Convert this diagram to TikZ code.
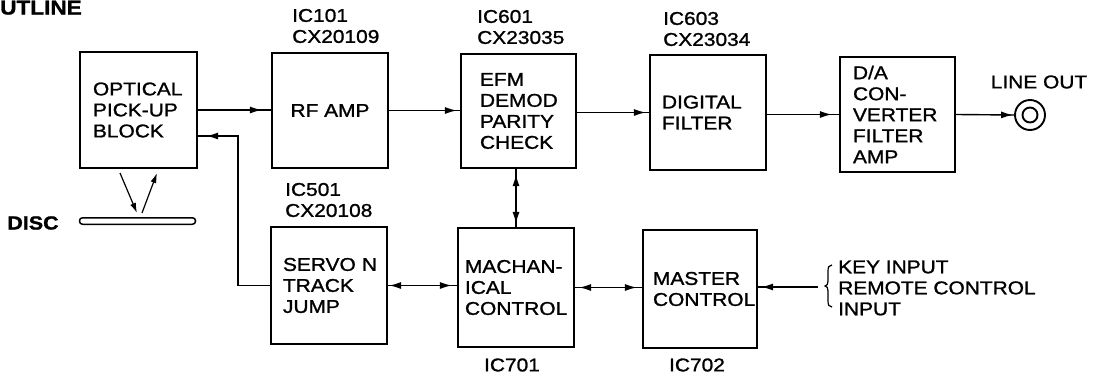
\documentclass[tikz,border=0pt]{standalone}
\usepackage{fontspec}
\setmainfont{Liberation Sans}[FakeStretch=1.13,FakeBold=1.2]
\usetikzlibrary{arrows.meta,decorations.markings}
\begin{document}
\begin{tikzpicture}[x=1pt,y=-1pt,
  every node/.style={font=\fontsize{18.5}{21}\selectfont, inner sep=0pt},
  blk/.style={draw, line width=2.2pt, rectangle, align=left, inner ysep=0pt},
  lbl/.style={align=left, anchor=west},
  conn/.style={line width=1.4pt},
  fwd/.style={postaction={decorate,decoration={markings,
      mark=at position -#1 with {\arrow{Latex[length=12pt,width=7pt]}}}}},
  fwd/.default=4pt,
  bwd/.style={postaction={decorate,decoration={markings,
      mark=at position #1 with {\arrowreversed{Latex[length=12pt,width=7pt]}}}}},
  bwd/.default=4pt]
\useasboundingbox (0,0) rectangle (1095,375);

% title
\node[anchor=base west, font=\fontsize{20}{22}\selectfont\bfseries] (title) at (0,14.5) {UTLINE};

% blocks
\node[blk, minimum width=117pt, minimum height=116pt, inner xsep=13pt, text width=91pt] (opt) at (138.5,110) {OPTICAL\\PICK-UP\\BLOCK};
\node[blk, minimum width=116pt, minimum height=115pt, align=center] (rf) at (330,110.5) {RF AMP};
\node[blk, minimum width=115pt, minimum height=114pt, inner xsep=19pt, text width=77pt] (efm) at (518.5,111) {EFM\\DEMOD\\PARITY\\CHECK};
\node[blk, minimum width=116pt, minimum height=115pt, inner xsep=12pt, text width=92pt] (dig) at (708,112.5) {DIGITAL\\FILTER};
\node[blk, minimum width=115pt, minimum height=115pt, inner xsep=13pt, text width=89pt] (da) at (897.5,114.5) {D/A\\CON-\\VERTER\\FILTER\\AMP};
\node[blk, minimum width=116pt, minimum height=117pt, inner xsep=12pt, text width=92pt] (servo) at (329,285.5) {\mbox{SERVO N}\\TRACK\\JUMP};
\node[blk, minimum width=116pt, minimum height=119pt, inner xsep=7pt, text width=102pt] (mach) at (516,287.5) {MACHAN-\\ICAL\\\mbox{CONTROL}};
\node[blk, minimum width=114pt, minimum height=118pt, inner xsep=10pt, text width=94pt] (master) at (700,289) {MASTER\\\mbox{CONTROL}};

% IC labels
\node[lbl] (ic101) at (292,26) {IC101\\CX20109};
\node[lbl] (ic601) at (477,27) {IC601\\CX23035};
\node[lbl] (ic603) at (663,29) {IC603\\CX23034};
\node[lbl] (ic501) at (285,200) {IC501\\CX20108};
\node (ic701) at (512,365) {IC701};
\node (ic702) at (697,365) {IC702};

% line out jack
\node[circle, draw, line width=1.9pt, minimum size=30pt] (jack) at (1030,115) {};
\node[circle, draw, line width=1.9pt, minimum size=15pt] (jackin) at (jack.center) {};
\node (lineout) at (1039,82) {LINE OUT};

% disc
\node[draw, line width=1.5pt, rounded corners=3pt, minimum width=116pt, minimum height=6.5pt] (disc) at (137.5,221) {};
\node[font=\fontsize{19}{21}\selectfont\bfseries] (disclbl) at (33,223) {DISC};
\coordinate (b1) at (120,173);
\coordinate (b2) at (137,213);
\coordinate (b3) at (142,213);
\coordinate (b4) at (157,173);
\draw[line width=1.2pt, -{Latex[length=10pt,width=6pt]}] (b1) -- (b2);
\draw[line width=1.2pt, -{Latex[length=10pt,width=6pt]}] (b3) -- (b4);

% signal path
\draw[conn, fwd=9pt] (opt.east) -- (opt.east -| rf.west);
\draw[conn, fwd=3pt] (rf.east) -- (rf.east -| efm.west);
\draw[conn, fwd=3pt] (dig.west -| efm.east) -- (dig.west);
\draw[conn, fwd=7pt] (da.west -| dig.east) -- (da.west);
\draw[conn, fwd=1pt] (da.east) -- (jack.west);

% control
\draw[conn, fwd=5pt, bwd=3pt] (mach.north) -- (mach.north |- efm.south);
\draw[conn, fwd=5pt, bwd=1pt] (servo.east) -- (servo.east -| mach.west);
\draw[conn, fwd=5pt, bwd=4pt] (mach.east) -- (mach.east -| master.west);
\coordinate (kin) at (818,287);
\draw[conn, fwd=3pt] (kin) -- (kin -| master.east);
\coordinate (fb) at (238,136);
\draw[conn, fwd=8pt] (servo.west) -| (fb) -- (fb -| opt.east);

% brace and inputs
\draw[line width=1.2pt] (832,265) .. controls (829,265) and (828,267) .. (828,271) -- (828,281)
  .. controls (828,284) and (827,286) .. (825,286) .. controls (827,286) and (828,288) .. (828,291)
  -- (828,301) .. controls (828,305) and (829,307) .. (832,307);
\node[lbl] (keyin) at (838,288) {KEY INPUT\\REMOTE CONTROL\\INPUT};
\end{tikzpicture}
\end{document}
